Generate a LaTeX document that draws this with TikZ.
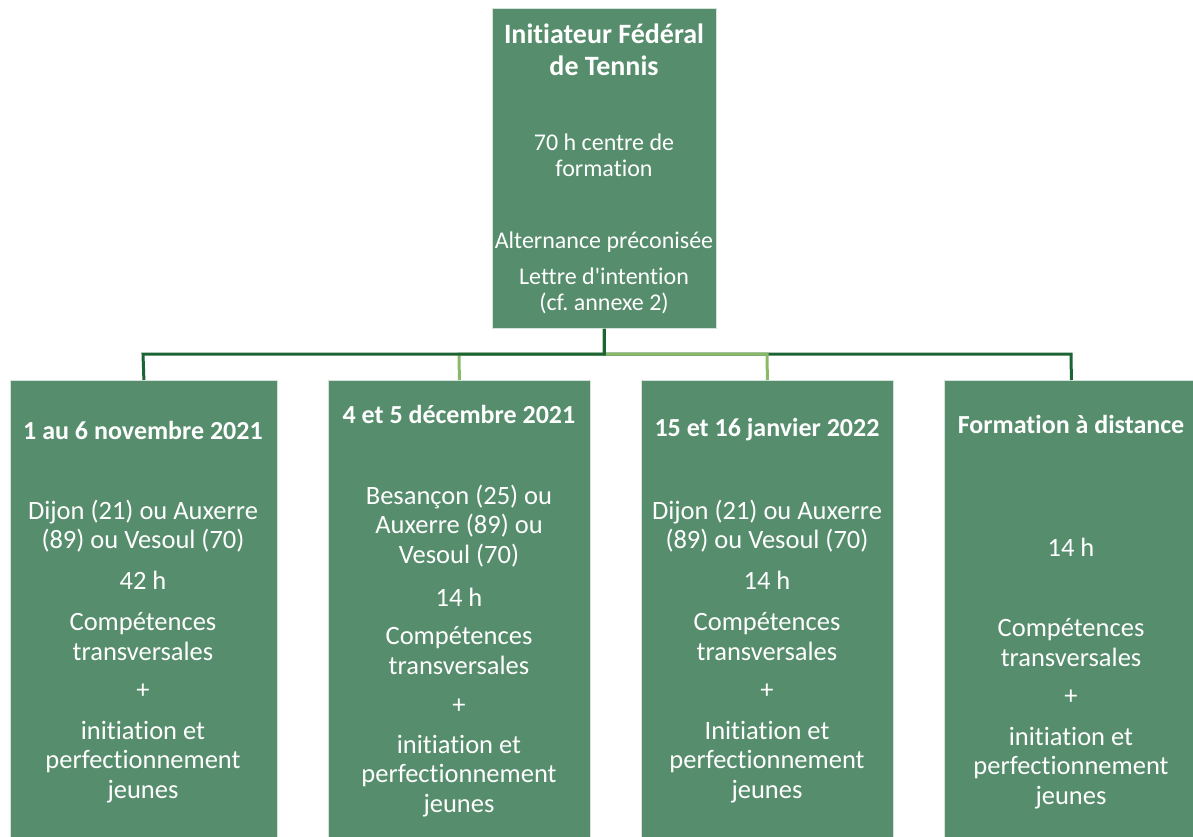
\documentclass[tikz,border=0pt]{standalone}
\usepackage{fontspec}
\setmainfont{Carlito}[Ligatures={TeXOff,NoCommon}]
\frenchspacing
\definecolor{boxgreen}{RGB}{86,141,108}
\definecolor{darkline}{RGB}{28,100,52}
\definecolor{lightline}{RGB}{138,186,104}
\begin{document}
\begin{tikzpicture}[x=1pt,y=-1pt,
  box/.style={fill=boxgreen,draw=white!75!boxgreen,line width=0.8pt,anchor=north west,inner sep=0pt},
  txt/.style={text=white,align=center,inner sep=0pt,font=\fontsize{26.5}{29.5}\selectfont},
  ttxt/.style={text=white,align=center,inner sep=0pt,font=\fontsize{24}{25.5}\selectfont},
  head/.style={text=white,align=center,inner sep=0pt,font=\bfseries\fontsize{26}{30}\selectfont},
  thead/.style={text=white,align=center,inner sep=0pt,font=\bfseries\fontsize{28}{32}\selectfont},
  dk/.style={draw=darkline,line width=3pt},
  lt/.style={draw=lightline,line width=3pt}]
\useasboundingbox (0,0) rectangle (1193,836);
% boxes
\node[box,minimum width=224pt,minimum height=320pt] (top) at (492,8) {};
\node[box,minimum width=267pt,minimum height=470pt] (b1) at (10,380) {};
\node[box,minimum width=262pt,minimum height=470pt] (b2) at (328,380) {};
\node[box,minimum width=252pt,minimum height=470pt] (b3) at (641,380) {};
\node[box,minimum width=254pt,minimum height=470pt] (b4) at (944,380) {};
% connectors
\draw[dk] (top.south) |- (1071,354) coordinate (h4) -- (b4.north);
\draw[lt] (top.south) |- (767,354) coordinate (h3) -- (b3.north);
\draw[lt] (top.south) |- (459,354) coordinate (h2) -- (b2.north);
\draw[dk] (top.south) |- (143,354) coordinate (h1) -- (b1.north);
% top box text
\node[thead] (t1) at (604,50) {Initiateur Fédéral\\de Tennis};
\node[ttxt] (t2) at (604,155.5) {70 h centre de\\formation};
\node[ttxt] (t3) at (604,242) {Alternance préconisée};
\node[ttxt] (t4) at (604,291) {Lettre d'intention\\(cf. annexe 2)};
% box 1
\node[head] (a1) at (143,430) {1 au 6 novembre 2021};
\node[txt] (a2) at (143,526) {Dijon (21) ou Auxerre\\(89) ou Vesoul (70)};
\node[txt] (a3) at (143,580) {42 h};
\node[txt] (a4) at (143,636.5) {Compétences\\transversales};
\node[txt] (a5) at (143,691) {+};
\node[txt] (a6) at (143,762) {initiation et\\perfectionnement\\jeunes};
% box 2
\node[head] (c1) at (459,414) {4 et 5 décembre 2021};
\node[txt] (c2) at (459,526) {Besançon (25) ou\\Auxerre (89) ou\\Vesoul (70)};
\node[txt] (c3) at (459,597) {14 h};
\node[txt] (c4) at (459,650.5) {Compétences\\transversales};
\node[txt] (c5) at (459,706) {+};
\node[txt] (c6) at (459,776) {initiation et\\perfectionnement\\jeunes};
% box 3
\node[head] (d1) at (767,430) {15 et 16 janvier 2022};
\node[txt] (d2) at (767,526) {Dijon (21) ou Auxerre\\(89) ou Vesoul (70)};
\node[txt] (d3) at (767,580) {14 h};
\node[txt] (d4) at (767,636.5) {Compétences\\transversales};
\node[txt] (d5) at (767,691) {+};
\node[txt] (d6) at (767,762) {Initiation et\\perfectionnement\\jeunes};
% box 4
\node[head] (e1) at (1071,424) {Formation à distance};
\node[txt] (e3) at (1071,547) {14 h};
\node[txt] (e4) at (1071,642.5) {Compétences\\transversales};
\node[txt] (e5) at (1071,697) {+};
\node[txt] (e6) at (1071,768) {initiation et\\perfectionnement\\jeunes};
\end{tikzpicture}
\end{document}
